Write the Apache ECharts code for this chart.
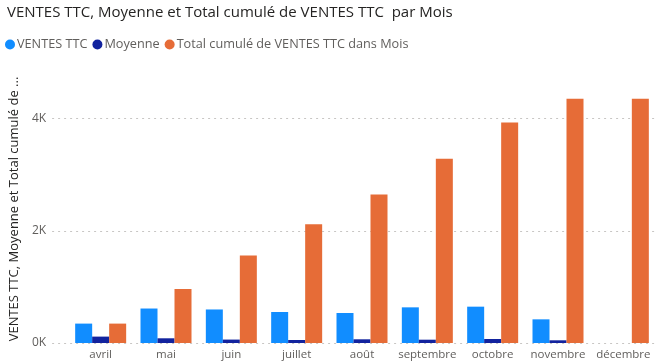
<!DOCTYPE html>
<html>
<head>
<meta charset="utf-8">
<script src="https://cdn.jsdelivr.net/npm/echarts@6/dist/echarts.min.js"></script>
<style>
html,body{margin:0;padding:0;background:#fff;}
#c{width:656px;height:364px;}
</style>
</head>
<body>
<div id="c"></div>
<script>
const months = ['avril','mai','juin','juillet','août','septembre','octobre','novembre','décembre'];
const ventes = [346, 615, 598, 553, 535, 636, 648, 422, null];
const moyenne = [114, 84, 61, 54, 66, 59, 71, 48, null];
const cumul = [346, 963, 1561, 2116, 2650, 3287, 3934, 4357, 4357];
const yTicks = [0, 2000, 4000];

const FONT = '"Open Sans", sans-serif';
const YMAX = 4780;

const chart = echarts.init(document.getElementById('c'), null, {renderer: 'canvas'});
chart.setOption({
  animation: false,
  backgroundColor: '#fff',
  title: {
    text: 'VENTES TTC, Moyenne et Total cumulé de VENTES TTC  par Mois',
    left: 2, top: 0,
    textStyle: {fontFamily: FONT, fontSize: 15, fontWeight: 'normal', color: '#252423'}
  },
  legend: {
    left: 0, top: 33,
    icon: 'circle', itemWidth: 10, itemHeight: 10, itemGap: 5,
    textStyle: {fontFamily: FONT, fontSize: 12.7, color: '#605E5C', padding: [0, 0, 0, -3]},
    data: ['VENTES TTC', 'Moyenne', 'Total cumulé de VENTES TTC dans Mois']
  },
  grid: [
    {left: 45, right: 0, top: 75, bottom: 21, containLabel: false},
    {left: 68, right: 0, top: 75, bottom: 21, containLabel: false}
  ],
  xAxis: [
    {gridIndex: 0, type: 'value', show: false, min: 0, max: 1},
    {gridIndex: 1, type: 'category', data: months,
     axisLine: {show: false}, axisTick: {show: false},
     axisLabel: {fontFamily: FONT, fontSize: 11.5, color: '#605E5C', margin: 6, interval: 0}}
  ],
  yAxis: [
    {gridIndex: 0, type: 'value', min: 0, max: YMAX, interval: 2000,
     name: 'VENTES TTC, Moyenne et Total cumulé de ...',
     nameLocation: 'middle', nameGap: 27, nameRotate: 90,
     nameTextStyle: {fontFamily: FONT, fontSize: 13, color: '#252423'},
     axisLine: {show: false}, axisTick: {show: false},
     axisLabel: {fontFamily: FONT, fontSize: 12, color: '#605E5C', margin: 6, showMaxLabel: false,
       formatter: v => yTicks.includes(v) ? (v / 1000) + 'K' : ''},
     splitLine: {show: true, showMaxLine: false, lineStyle: {color: '#C8C6C4', type: [2, 4], width: 1}}
    },
    {gridIndex: 1, type: 'value', min: 0, max: YMAX, show: false, splitLine: {show: false}}
  ],
  series: [
    {name: 'VENTES TTC', type: 'bar', xAxisIndex: 1, yAxisIndex: 1, data: ventes,
     barWidth: 17, barGap: '0%', itemStyle: {color: '#118DFF'}},
    {name: 'Moyenne', type: 'bar', xAxisIndex: 1, yAxisIndex: 1, data: moyenne,
     barWidth: 17, barGap: '0%', itemStyle: {color: '#12239E'}},
    {name: 'Total cumulé de VENTES TTC dans Mois', type: 'bar', xAxisIndex: 1, yAxisIndex: 1, data: cumul,
     barWidth: 17, barGap: '0%', itemStyle: {color: '#E66C37'}}
  ]
});
</script>
</body>
</html>
